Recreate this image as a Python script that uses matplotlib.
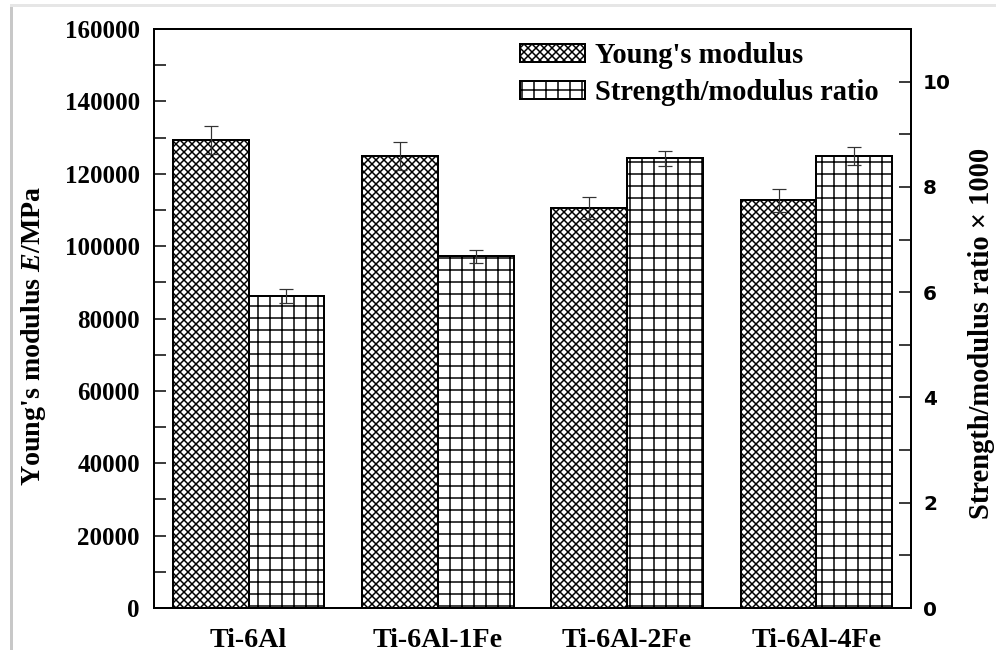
import matplotlib
matplotlib.use('Agg')
import matplotlib.pyplot as plt
import numpy as np
from matplotlib.lines import Line2D
from matplotlib.ticker import MultipleLocator

plt.rcParams['font.family'] = 'Liberation Serif'
plt.rcParams['font.weight'] = 'bold'
plt.rcParams['axes.labelweight'] = 'bold'
plt.rcParams['mathtext.fontset'] = 'custom'
plt.rcParams['mathtext.it'] = 'Liberation Serif:italic:bold'
plt.rcParams['mathtext.rm'] = 'Liberation Serif:bold'
plt.rcParams['hatch.linewidth'] = 1.5

# data
alloys = ['Ti-6Al', 'Ti-6Al-1Fe', 'Ti-6Al-2Fe', 'Ti-6Al-4Fe']
youngs = [129300, 124900, 110500, 112700]
youngs_err = [3900, 3900, 3100, 3200]
ratio = [5.93, 6.68, 8.54, 8.58]
ratio_err = [0.13, 0.13, 0.15, 0.17]

fig = plt.figure(figsize=(996 / 72, 650 / 72), dpi=72)
ax = fig.add_axes([154 / 996, 1 - 608 / 650, (911 - 154) / 996, (608 - 29) / 650])
ax2 = ax.twinx()

x = np.arange(len(alloys))
w = 0.4
err_kw = dict(ecolor='#333333', elinewidth=1.2, capsize=7, capthick=1.2)

b1 = ax.bar(x - w / 2, youngs, w, yerr=youngs_err, color='white', edgecolor='black',
            linewidth=2, hatch='xxx', label="Young's modulus", error_kw=err_kw, zorder=2)
b2 = ax2.bar(x + w / 2, ratio, w, yerr=ratio_err, color='white', edgecolor='black',
             linewidth=2, hatch='+', label='Strength/modulus ratio', error_kw=err_kw, zorder=2)

ax.set_xlim(-0.5, 3.5)
ax.set_ylim(0, 160000)
ax2.set_ylim(0, 11)

ax.yaxis.set_major_locator(MultipleLocator(20000))
ax.yaxis.set_minor_locator(MultipleLocator(10000))
ax2.yaxis.set_major_locator(MultipleLocator(2))
ax2.yaxis.set_minor_locator(MultipleLocator(1))

ax.tick_params(axis='y', which='both', direction='in', length=12, width=1.5, labelsize=25, pad=14)
ax2.tick_params(axis='y', which='both', direction='in', length=12, width=1.5, pad=12)
for t in ax2.get_yticklabels():
    t.set_fontfamily('DejaVu Sans')
    t.set_fontweight('bold')
    t.set_fontsize(20)

ax.set_xticks(x)
ax.set_xticklabels(alloys, fontsize=28)
ax.tick_params(axis='x', length=0, pad=20)

for a in (ax, ax2):
    for s in a.spines.values():
        s.set_linewidth(2)

ax.set_ylabel(r"Young's modulus $E$/MPa", fontsize=28)
ax.yaxis.set_label_coords(-0.14, 0.47)
ax2.set_ylabel('Strength/modulus ratio × 1000', fontsize=28.5)
ax2.yaxis.set_label_coords(1.075, 0.475)

ax.legend(handles=[b1, b2], loc='upper left', bbox_to_anchor=(0.484, 0.977),
          frameon=False, fontsize=28.5, handlelength=2.28, handleheight=0.6,
          handletextpad=0.35, labelspacing=0.34, borderpad=0, borderaxespad=0)

# screenshot frame
fig.add_artist(Line2D([11 / 996, 11 / 996], [0, 1 - 5 / 650], transform=fig.transFigure,
                      color='#c8c8c8', lw=3))
fig.add_artist(Line2D([11 / 996, 1], [1 - 5 / 650, 1 - 5 / 650], transform=fig.transFigure,
                      color='#e6e6e6', lw=3))

fig.savefig('out.png', dpi=72)
